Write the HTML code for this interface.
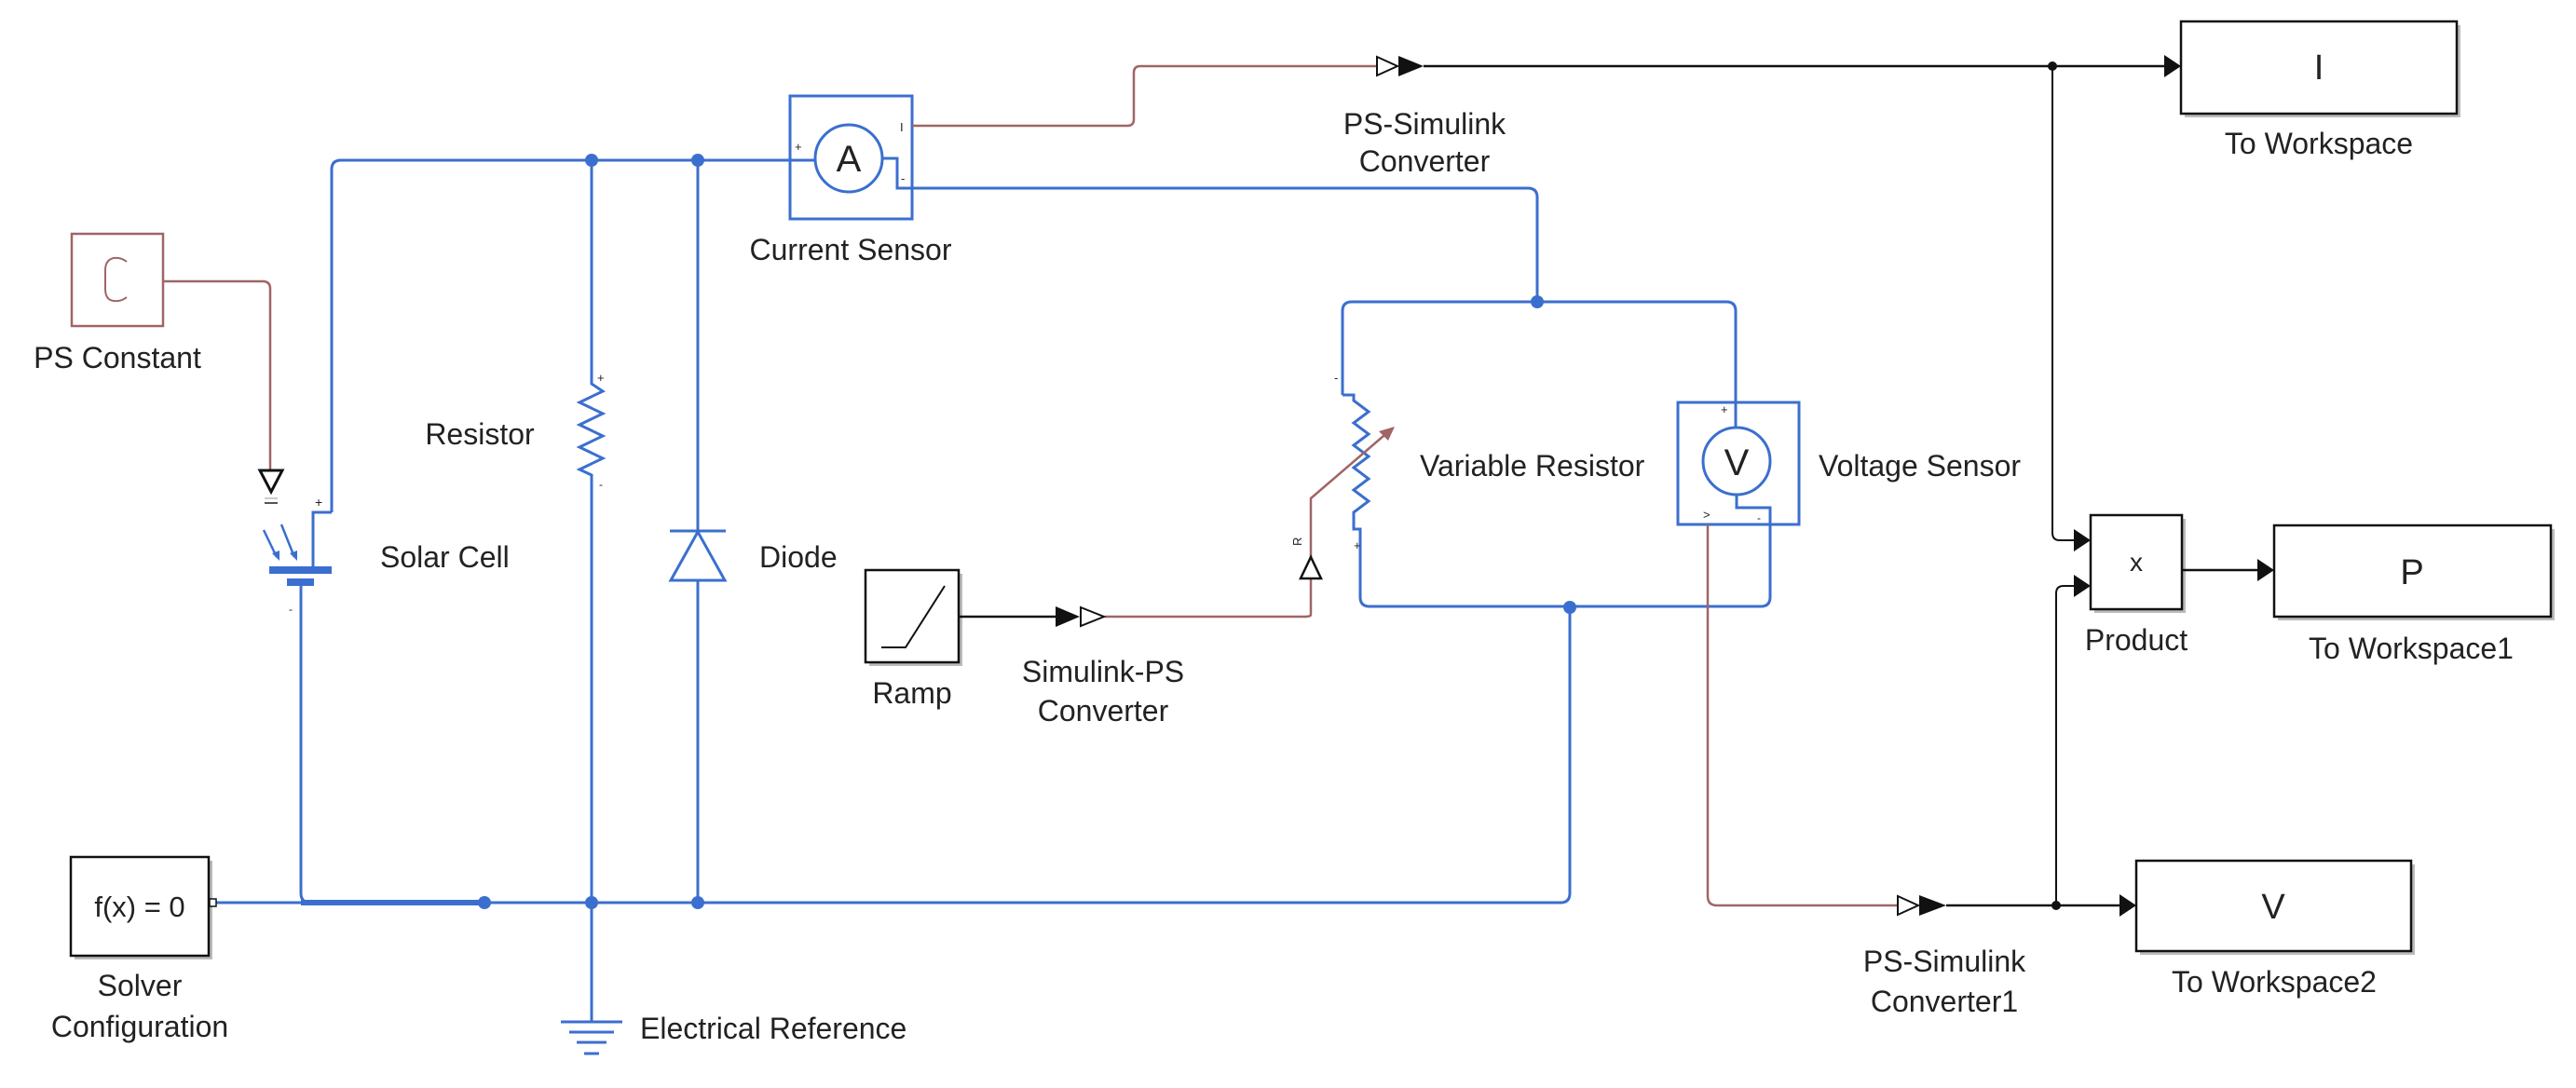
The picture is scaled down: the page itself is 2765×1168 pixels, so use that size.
<!DOCTYPE html>
<html><head><meta charset="utf-8"><style>
html,body{margin:0;padding:0;background:#fff;}
svg{display:block;}
text{font-family:"Liberation Sans",Arial,sans-serif;fill:#222;}
</style></head><body>
<svg width="2765" height="1168" viewBox="0 0 2765 1168" xmlns="http://www.w3.org/2000/svg">
<g fill="none" stroke="#3b6fcf" stroke-width="3">
<path d="M356 550 V182 Q356 172 366 172 H875"/>
<path d="M635 172 V412 L647 420 L622 432 L647 444 L622 456 L647 468 L622 480 L647 492 L622 504 L635 510 V969"/>
<path d="M749 172 V570 M749 623 V969"/>
<path d="M356 550 H336 V608"/>
<path d="M323 629 V959 Q323 969 333 969 H1675 Q1685 969 1685 959 V652"/>
<path d="M232 969 H323"/>
<path d="M635 969 V1097"/>
<path d="M947 170 H963 V202 H1640 Q1650 202 1650 212 V324"/>
<path d="M1441 424 V334 Q1441 324 1451 324 H1853 Q1863 324 1863 334 V459"/>
<path d="M1441 424 H1453 V430 L1469 442 L1453 454 L1469 466 L1453 478 L1469 490 L1453 502 L1469 514 L1453 526 L1469 538 L1453 550 V568 H1460 V641 Q1460 651 1470 651 H1890 Q1900 651 1900 641 V545 H1864 V531"/>
</g>
<path d="M323 969 H520" stroke="#3b6fcf" stroke-width="6"/>
<g stroke="#3b6fcf" stroke-width="3">
<line x1="602" y1="1097" x2="668" y2="1097"/>
<line x1="611" y1="1108" x2="659" y2="1108"/>
<line x1="619" y1="1119" x2="651" y2="1119"/>
<line x1="627" y1="1131" x2="643" y2="1131"/>
</g>
<g fill="#3b6fcf">
<circle cx="635" cy="172" r="7"/><circle cx="749" cy="172" r="7"/>
<circle cx="520" cy="969" r="7"/><circle cx="635" cy="969" r="7"/><circle cx="749" cy="969" r="7"/>
<circle cx="1650" cy="324" r="7"/><circle cx="1685" cy="652" r="7"/>
</g>
<rect x="289" y="608" width="67" height="8" fill="#3b6fcf"/>
<rect x="308" y="621" width="29" height="8" fill="#3b6fcf"/>
<g stroke="#3b6fcf" stroke-width="2.5" fill="#3b6fcf">
<line x1="283" y1="569" x2="297" y2="598"/><polygon points="292,594 300,602 300,591" stroke="none"/>
<line x1="302" y1="563" x2="316" y2="598"/><polygon points="311,594 319,602 319,591" stroke="none"/>
</g>
<text x="338" y="544" font-size="14" fill="#444">+</text>
<text x="310" y="658" font-size="12" fill="#444">-</text>
<g stroke="#3b6fcf" stroke-width="3" fill="none">
<line x1="719" y1="570" x2="779" y2="570"/>
<polygon points="749,571 720,623 778,623"/>
</g>
<text x="641" y="410" font-size="13" fill="#444">+</text>
<text x="643" y="524" font-size="12" fill="#444">-</text>
<rect x="77" y="251" width="98" height="99" fill="#fff" stroke="#a06565" stroke-width="2.5"/>
<path d="M136 281 Q130 276 122 277 Q113 279 113 290 V310 Q113 322 122 323 Q130 324 136 319" fill="none" stroke="#a06565" stroke-width="2"/>
<path d="M175 302 H282 Q290 302 290 310 V505" fill="none" stroke="#a06565" stroke-width="2.5"/>
<polygon points="279,505 303,505 291,528" fill="#fff" stroke="#111" stroke-width="3"/>
<line x1="284" y1="540" x2="298" y2="540" stroke="#555" stroke-width="2"/>
<line x1="284" y1="535" x2="298" y2="535" stroke="#999" stroke-width="1"/>
<rect x="848" y="103" width="131" height="132" fill="none" stroke="#3b6fcf" stroke-width="3"/>
<circle cx="911" cy="170" r="36" fill="#fff" stroke="#3b6fcf" stroke-width="3"/>
<text x="911" y="184" font-size="40" text-anchor="middle" fill="#3b6fcf" font-family="Liberation Serif, serif">A</text>
<text x="853" y="162" font-size="13" fill="#444">+</text>
<text x="966" y="141" font-size="13" fill="#444">I</text>
<text x="967" y="196" font-size="13" fill="#444">-</text>
<path d="M979 135 H1210 Q1217 135 1217 128 V78 Q1217 71 1224 71 H1477" fill="none" stroke="#a06565" stroke-width="2.5"/>
<polygon points="1478,61 1500,71 1478,81" fill="#fff" stroke="#111" stroke-width="2"/>
<polygon points="1501,60 1528,71 1501,82" fill="#111"/>
<line x1="1528" y1="71" x2="2325" y2="71" stroke="#111" stroke-width="2.5"/>
<circle cx="2203" cy="71" r="5" fill="#111"/>
<polygon points="2323,59 2341,71 2323,83" fill="#111"/>
<path d="M2203 71 V572 Q2203 580 2211 580 H2228" fill="none" stroke="#111" stroke-width="2"/>
<polygon points="2226,568 2244,580 2226,592" fill="#111"/>
<rect x="2345" y="27" width="296" height="99" fill="#bbb"/>
<rect x="2341" y="23" width="296" height="99" fill="#fff" stroke="#111" stroke-width="2.5"/>
<text x="2489" y="85" font-size="38" text-anchor="middle">I</text>
<path d="M1407 621 V660 Q1407 662 1400 662 H1186" fill="none" stroke="#a06565" stroke-width="2.5"/>
<path d="M1407 598 V535 L1492 462" fill="none" stroke="#a06565" stroke-width="2.5"/>
<polygon points="1497,458 1480,463 1490,473" fill="#a06565"/>
<polygon points="1407,598 1396,621 1418,621" fill="#fff" stroke="#111" stroke-width="2.5"/>
<text x="1397" y="586" font-size="13" fill="#444" transform="rotate(-90 1397 586)">R</text>
<text x="1432" y="410" font-size="13" fill="#444">-</text>
<text x="1453" y="590" font-size="13" fill="#444">+</text>
<rect x="1801" y="432" width="130" height="131" fill="none" stroke="#3b6fcf" stroke-width="3"/>
<circle cx="1864" cy="495" r="36" fill="#fff" stroke="#3b6fcf" stroke-width="3"/>
<text x="1864" y="510" font-size="40" text-anchor="middle" fill="#3b6fcf" font-family="Liberation Serif, serif">V</text>
<text x="1847" y="444" font-size="13" fill="#444">+</text>
<text x="1828" y="557" font-size="13" fill="#444">&gt;</text>
<text x="1886" y="560" font-size="12" fill="#444">-</text>
<path d="M1833 563 V962 Q1833 972 1843 972 H2036" fill="none" stroke="#a06565" stroke-width="2.5"/>
<polygon points="2037,962 2059,972 2037,982" fill="#fff" stroke="#111" stroke-width="2"/>
<polygon points="2060,961 2089,972 2060,983" fill="#111"/>
<line x1="2089" y1="972" x2="2276" y2="972" stroke="#111" stroke-width="2.5"/>
<circle cx="2207" cy="972" r="5" fill="#111"/>
<polygon points="2275,960 2293,972 2275,984" fill="#111"/>
<path d="M2207 972 V637 Q2207 629 2215 629 H2228" fill="none" stroke="#111" stroke-width="2"/>
<polygon points="2226,617 2244,629 2226,641" fill="#111"/>
<rect x="2248" y="557" width="98" height="101" fill="#bbb"/>
<rect x="2244" y="553" width="98" height="101" fill="#fff" stroke="#111" stroke-width="2.5"/>
<text x="2293" y="613" font-size="28" text-anchor="middle">x</text>
<line x1="2342" y1="612" x2="2425" y2="612" stroke="#111" stroke-width="2.5"/>
<polygon points="2423,600 2441,612 2423,624" fill="#111"/>
<rect x="2445" y="568" width="297" height="98" fill="#bbb"/>
<rect x="2441" y="564" width="297" height="98" fill="#fff" stroke="#111" stroke-width="2.5"/>
<text x="2589" y="627" font-size="38" text-anchor="middle">P</text>
<rect x="2297" y="928" width="295" height="97" fill="#bbb"/>
<rect x="2293" y="924" width="295" height="97" fill="#fff" stroke="#111" stroke-width="2.5"/>
<text x="2440" y="986" font-size="38" text-anchor="middle">V</text>
<rect x="933" y="616" width="100" height="99" fill="#bbb"/>
<rect x="929" y="612" width="100" height="99" fill="#fff" stroke="#111" stroke-width="2.5"/>
<path d="M946 695 H972 L1014 629" fill="none" stroke="#111" stroke-width="2"/>
<line x1="1029" y1="662" x2="1134" y2="662" stroke="#111" stroke-width="2.5"/>
<polygon points="1133,651 1159,662 1133,673" fill="#111"/>
<polygon points="1160,652 1185,662 1160,672" fill="#fff" stroke="#111" stroke-width="2"/>
<rect x="80" y="924" width="148" height="106" fill="#bbb"/>
<rect x="76" y="920" width="148" height="106" fill="#fff" stroke="#111" stroke-width="2.5"/>
<text x="150" y="984" font-size="31" text-anchor="middle">f(x) = 0</text>
<rect x="225" y="965" width="7" height="8" fill="#fff" stroke="#111" stroke-width="1.5"/>
<g font-size="32">
<text x="126" y="395" text-anchor="middle">PS Constant</text>
<text x="515" y="477" text-anchor="middle">Resistor</text>
<text x="408" y="609">Solar Cell</text>
<text x="815" y="609">Diode</text>
<text x="913" y="279" text-anchor="middle">Current Sensor</text>
<text x="1529" y="144" text-anchor="middle">PS-Simulink</text>
<text x="1529" y="184" text-anchor="middle">Converter</text>
<text x="2489" y="165" text-anchor="middle">To Workspace</text>
<text x="1524" y="511">Variable Resistor</text>
<text x="1952" y="511">Voltage Sensor</text>
<text x="979" y="755" text-anchor="middle">Ramp</text>
<text x="1184" y="732" text-anchor="middle">Simulink-PS</text>
<text x="1184" y="774" text-anchor="middle">Converter</text>
<text x="2293" y="698" text-anchor="middle">Product</text>
<text x="2588" y="707" text-anchor="middle">To Workspace1</text>
<text x="2087" y="1043" text-anchor="middle">PS-Simulink</text>
<text x="2087" y="1086" text-anchor="middle">Converter1</text>
<text x="2441" y="1065" text-anchor="middle">To Workspace2</text>
<text x="150" y="1069" text-anchor="middle">Solver</text>
<text x="150" y="1113" text-anchor="middle">Configuration</text>
<text x="687" y="1115">Electrical Reference</text>
</g>
</svg>
</body></html>
